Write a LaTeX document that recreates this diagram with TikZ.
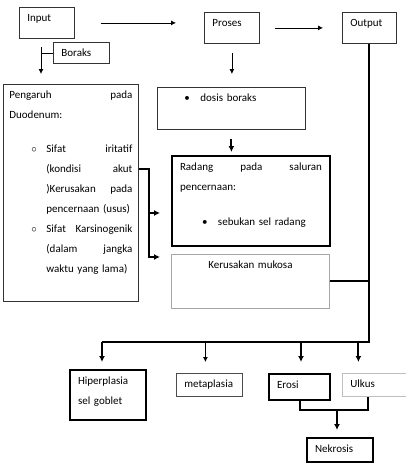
\documentclass[tikz,border=0pt]{standalone}
\usepackage{fontspec}
\setmainfont{Carlito}
\usetikzlibrary{arrows.meta, positioning, calc}
\setlength{\parindent}{0pt}
\tikzset{
  box/.style={rectangle, draw=black!80, line width=0.8pt, anchor=north west,
              align=left, inner xsep=8pt, inner ysep=6pt, text height=8pt,
              font=\fontsize{11}{20}\selectfont},
  boldbox/.style={box, draw=black, line width=2pt},
  arrow/.style={-{Latex[length=5pt, width=5pt]}, line width=0.8pt},
  bigarrow/.style={-{Latex[length=6pt, width=6pt]}, line width=2pt},
  bigline/.style={line width=2pt},
}

\begin{document}
\begin{tikzpicture}[x=1pt, y=-1pt]
    \useasboundingbox (0,0) rectangle (405,469);

    % top row
    \node[box, text width=39pt, text depth=11pt] (input) at (19,7) {Input};
    \node[box, text width=39pt, text depth=11pt] (proses) at (204,12) {Proses};
    \node[box, text width=38pt, text depth=11pt] (output) at (342,12) {Output};
    \node[box, text width=40pt, text depth=1pt] (boraks) at (53,42) {Boraks};

    % left column
    \node[box, inner xsep=6pt, text width=123pt, text depth=197pt] (pengaruh) at (3,84)
      {Pengaruh\hfill pada\\
       Duodenum:\\[14pt]
       \hspace*{22pt}\makebox[15pt][l]{$\circ$}Sifat\hfill iritatif\\
       \hspace*{37pt}(kondisi\hfill akut\\
       \hspace*{37pt})Kerusakan\hfill pada\\
       \hspace*{37pt}pencernaan (usus)\\
       \hspace*{22pt}\makebox[15pt][l]{$\circ$}Sifat\hfill Karsinogenik\\
       \hspace*{37pt}(dalam\hfill jangka\\
       \hspace*{37pt}waktu yang lama)};

    % middle column
    \node[box, text width=132pt, text depth=22pt] (dosis) at (157,87)
      {\hspace*{19pt}\makebox[16pt][l]{\textbullet}dosis boraks};
    \node[boldbox, text width=142pt, text depth=70pt] (radang) at (171,155)
      {Radang\hfill pada\hfill saluran\\
       pencernaan:\\[15pt]
       \hspace*{22pt}\makebox[16pt][l]{\textbullet}sebukan sel radang};
    \node[box, draw=gray!70, align=center, text width=142pt, text depth=34pt] (kerusakan) at (171,254)
      {Kerusakan mukosa};

    % bottom row
    \node[boldbox, text width=60pt, text depth=30pt] (hiper) at (69,369)
      {Hiperplasia\\sel goblet};
    \node[box, draw=black!70, text width=50pt, text depth=3pt] (meta) at (176,373) {metaplasia};
    \node[boldbox, text width=45pt, text depth=6pt] (erosi) at (268,373) {Erosi};
    \node[box, draw=gray!50, text width=54pt, text depth=3pt] (ulkus) at (342,373) {Ulkus};
    \node[boldbox, text width=50pt, text depth=4pt] (nekrosis) at (306,437) {Nekrosis};

    \coordinate (bsplit) at (41,47);
    \coordinate (split) at (149,169);
    \coordinate (rin) at ([yshift=-12pt]radang.west);
    \coordinate (bus) at (369,342);
    \coordinate (nj) at (337,410);

    % connectors
    \draw[arrow, shorten <=26pt, shorten >=28pt] (input.east) -- (input.east -| proses.west);
    \draw[arrow, shorten <=15pt, shorten >=19pt] (proses.east) -- (output.west);
    \draw[line width=0.8pt] (boraks.west) -- (boraks.west -| bsplit);
    \draw[arrow, shorten >=10pt] (bsplit) -- (bsplit |- pengaruh.north);
    \draw[arrow, shorten <=9pt, shorten >=13pt] (proses.south) -- (proses.south |- dosis.north);
    \draw[bigarrow, shorten <=9pt, shorten >=3pt] (dosis.south) -- (dosis.south |- radang.north);

    \draw[bigarrow, shorten >=11pt] (pengaruh.east |- split) -- (split) |- ([yshift=-3pt]kerusakan.north west);
    \draw[bigarrow, shorten >=11pt] (split |- rin) -- (rin);

    \draw[bigline] (kerusakan.east) -- (kerusakan.east -| output.south);
    \draw[bigline] (output.south) |- ([xshift=-6pt]hiper.north |- bus);
    \draw[bigarrow, shorten >=7pt] ([xshift=-6pt]hiper.north |- bus) -- ([xshift=-6pt]hiper.north);
    \draw[arrow, shorten >=11pt] ([xshift=-4pt]meta.north |- bus) -- ([xshift=-4pt]meta.north);
    \draw[bigarrow, shorten >=11pt] ([xshift=1.5pt]erosi.north |- bus) -- ([xshift=1.5pt]erosi.north);
    \draw[bigarrow, shorten >=11pt] ([xshift=-19pt]ulkus.north |- bus) -- ([xshift=-19pt]ulkus.north);

    \draw[bigline] (erosi.south) |- (nj) -| ([xshift=-9pt]ulkus.south);
    \draw[bigarrow, shorten >=7pt] (nj) -- (nj |- nekrosis.north);
  \end{tikzpicture}
\end{document}
